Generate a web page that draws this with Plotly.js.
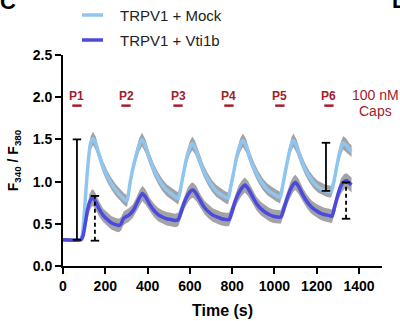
<!DOCTYPE html>
<html>
<head>
<meta charset="utf-8">
<script src="https://cdn.plot.ly/plotly-3.0.1.min.js"></script>
<style>
  html, body { margin: 0; padding: 0; background: #ffffff; }
  #chart { width: 400px; height: 321px; }
</style>
</head>
<body>
<div id="chart"></div>
<script>
// ---- data ----
const timeMock = [
  0, 80, 90, 100, 110, 120, 130, 142, 155, 170,
  190, 210, 230, 250, 270, 290, 303, 315, 330, 345,
  360, 374, 390, 410, 430, 450, 470, 490, 510, 530,
  545, 555, 570, 585, 600, 612, 625, 645, 665, 685,
  705, 725, 745, 765, 781, 792, 808, 822, 838, 851,
  865, 885, 905, 925, 945, 965, 985, 1005, 1027, 1037,
  1052, 1068, 1080, 1090, 1105, 1125, 1145, 1165, 1185, 1205,
  1225, 1245, 1268, 1280, 1295, 1310, 1325, 1340, 1355, 1365
];
const mockValues = [
  0.31, 0.31, 0.35, 0.60, 0.95, 1.25, 1.45, 1.51, 1.45, 1.32,
  1.17, 1.06, 0.97, 0.90, 0.84, 0.79, 0.77, 0.95, 1.15, 1.30,
  1.43, 1.50, 1.42, 1.27, 1.14, 1.04, 0.96, 0.90, 0.86, 0.82,
  0.80, 0.90, 1.10, 1.28, 1.40, 1.45, 1.40, 1.26, 1.13, 1.03,
  0.95, 0.89, 0.85, 0.82, 0.80, 0.92, 1.12, 1.30, 1.43, 1.49,
  1.43, 1.28, 1.15, 1.05, 0.97, 0.91, 0.87, 0.84, 0.81, 0.92,
  1.12, 1.32, 1.44, 1.49, 1.42, 1.27, 1.15, 1.06, 0.99, 0.94,
  0.91, 0.89, 0.88, 0.98, 1.18, 1.36, 1.46, 1.43, 1.38, 1.36
];
const mockSem = [
  0.02, 0.02, 0.04, 0.06, 0.07, 0.07, 0.08, 0.08, 0.08, 0.07,
  0.07, 0.07, 0.07, 0.07, 0.07, 0.07, 0.07, 0.07, 0.07, 0.07,
  0.08, 0.08, 0.08, 0.07, 0.07, 0.07, 0.07, 0.07, 0.07, 0.07,
  0.07, 0.07, 0.07, 0.07, 0.08, 0.08, 0.08, 0.07, 0.07, 0.07,
  0.07, 0.07, 0.07, 0.07, 0.07, 0.07, 0.07, 0.07, 0.08, 0.08,
  0.08, 0.07, 0.07, 0.07, 0.07, 0.07, 0.07, 0.07, 0.07, 0.07,
  0.07, 0.07, 0.08, 0.08, 0.08, 0.07, 0.07, 0.07, 0.07, 0.07,
  0.07, 0.07, 0.07, 0.07, 0.07, 0.08, 0.08, 0.08, 0.07, 0.07
];

const timeVti = [
  0, 85, 95, 105, 115, 125, 135, 142, 155, 170,
  190, 210, 230, 250, 265, 275, 285, 295, 310, 330,
  345, 360, 375, 390, 410, 430, 450, 470, 490, 510,
  530, 545, 560, 575, 590, 605, 615, 630, 650, 670,
  690, 710, 730, 750, 770, 785, 800, 815, 830, 845,
  860, 875, 895, 915, 935, 955, 975, 995, 1015, 1030,
  1045, 1060, 1075, 1090, 1100, 1115, 1135, 1155, 1175, 1195,
  1215, 1235, 1255, 1272, 1285, 1300, 1315, 1330, 1343, 1355,
  1365
];
const vtiValues = [
  0.31, 0.31, 0.36, 0.50, 0.65, 0.75, 0.80, 0.81, 0.76, 0.68,
  0.60, 0.55, 0.51, 0.49, 0.48, 0.50, 0.56, 0.58, 0.60, 0.65,
  0.72, 0.80, 0.86, 0.82, 0.73, 0.66, 0.61, 0.58, 0.56, 0.55,
  0.54, 0.55, 0.65, 0.76, 0.84, 0.89, 0.90, 0.86, 0.77, 0.69,
  0.64, 0.60, 0.58, 0.56, 0.55, 0.55, 0.65, 0.77, 0.86, 0.92,
  0.96, 0.92, 0.83, 0.74, 0.68, 0.64, 0.61, 0.59, 0.58, 0.58,
  0.68, 0.80, 0.90, 0.97, 0.99, 0.94, 0.84, 0.76, 0.70, 0.66,
  0.63, 0.61, 0.60, 0.59, 0.70, 0.84, 0.95, 1.00, 1.01, 0.98,
  0.96
];
const vtiSem = [
  0.02, 0.02, 0.04, 0.07, 0.09, 0.10, 0.10, 0.10, 0.10, 0.09,
  0.08, 0.08, 0.08, 0.08, 0.08, 0.08, 0.08, 0.08, 0.08, 0.08,
  0.08, 0.09, 0.09, 0.09, 0.08, 0.08, 0.08, 0.08, 0.08, 0.08,
  0.08, 0.08, 0.08, 0.08, 0.09, 0.09, 0.09, 0.09, 0.08, 0.08,
  0.08, 0.08, 0.08, 0.08, 0.08, 0.08, 0.08, 0.08, 0.09, 0.09,
  0.09, 0.09, 0.08, 0.08, 0.08, 0.08, 0.08, 0.08, 0.08, 0.08,
  0.08, 0.08, 0.09, 0.09, 0.09, 0.09, 0.08, 0.08, 0.08, 0.08,
  0.08, 0.08, 0.08, 0.08, 0.08, 0.08, 0.09, 0.09, 0.09, 0.09,
  0.09
];

// amplitude bars (solid = Mock, dashed = Vti1b)
const solidBarT = [66, 1244];
const solidBarLo = [0.31, 0.89];
const solidBarHi = [1.50, 1.46];
const dashBarT = [151, 1339];
const dashBarLo = [0.30, 0.56];
const dashBarHi = [0.83, 0.99];

// capsaicin pulses
const pulseT = [66, 298, 544, 785, 1026, 1258];
const pulseLabels = ['P1', 'P2', 'P3', 'P4', 'P5', 'P6'];
const pulseHalfWidth = 22;   // seconds
const pulseLabelY = 2.02;
const pulseDashY = 1.90;

const seriesNames = ['TRPV1 + Mock', 'TRPV1 + Vti1b'];
const xTicks = [0, 200, 400, 600, 800, 1000, 1200, 1400];
const yTicks = [0, 0.5, 1.0, 1.5, 2.0, 2.5];

// ---- styles ----
const mockColor = '#8fc6ef';
const vtiColor = '#4a4ade';
const bandColor = '#a3a3a7';
const red = '#a3202a';
const FONT = 'Arial, "Liberation Sans", Helvetica, sans-serif';
const capHalf = 20;  // seconds

function band(t, v, s, name) {
  const lo = v.map((d, i) => d - s[i]);
  const hi = v.map((d, i) => d + s[i]);
  return [
    { x: t, y: lo, type: 'scatter', mode: 'lines', line: { width: 0, color: bandColor },
      showlegend: false, hoverinfo: 'skip', name: name + ' lo' },
    { x: t, y: hi, type: 'scatter', mode: 'lines', line: { width: 0, color: bandColor },
      fill: 'tonexty', fillcolor: bandColor, showlegend: false, hoverinfo: 'skip', name: name + ' hi' }
  ];
}

function stems(T, Lo, Hi) {
  const x = [], y = [];
  T.forEach((t, i) => { x.push(t, t, null); y.push(Lo[i], Hi[i], null); });
  return { x, y };
}
function caps(T, Lo, Hi) {
  const x = [], y = [];
  T.forEach((t, i) => {
    x.push(t - capHalf, t + capHalf, null, t - capHalf, t + capHalf, null);
    y.push(Lo[i], Lo[i], null, Hi[i], Hi[i], null);
  });
  return { x, y };
}

const solidStem = stems(solidBarT, solidBarLo, solidBarHi);
const dashStem = stems(dashBarT, dashBarLo, dashBarHi);
const allCaps = caps(solidBarT.concat(dashBarT), solidBarLo.concat(dashBarLo), solidBarHi.concat(dashBarHi));

const pulseX = [], pulseY = [];
pulseT.forEach(t => { pulseX.push(t - pulseHalfWidth, t + pulseHalfWidth, null); pulseY.push(pulseDashY, pulseDashY, null); });

const traces = [
  ...band(timeMock, mockValues, mockSem, 'mock'),
  { x: timeMock, y: mockValues, type: 'scatter', mode: 'lines', name: seriesNames[0],
    line: { color: mockColor, width: 3.5, shape: 'spline', smoothing: 0.6 }, showlegend: false },
  ...band(timeVti, vtiValues, vtiSem, 'vti'),
  { x: timeVti, y: vtiValues, type: 'scatter', mode: 'lines', name: seriesNames[1],
    line: { color: vtiColor, width: 3.5, shape: 'spline', smoothing: 0.6 }, showlegend: false },
  { x: solidStem.x, y: solidStem.y, type: 'scatter', mode: 'lines', line: { color: '#000', width: 1.8 },
    showlegend: false, hoverinfo: 'skip', cliponaxis: false },
  { x: dashStem.x, y: dashStem.y, type: 'scatter', mode: 'lines', line: { color: '#000', width: 1.8, dash: '4px,3px' },
    showlegend: false, hoverinfo: 'skip', cliponaxis: false },
  { x: allCaps.x, y: allCaps.y, type: 'scatter', mode: 'lines', line: { color: '#000', width: 1.8 },
    showlegend: false, hoverinfo: 'skip', cliponaxis: false },
  { x: pulseX, y: pulseY, type: 'scatter', mode: 'lines', line: { color: red, width: 2.5 },
    showlegend: false, hoverinfo: 'skip', cliponaxis: false }
];

// pixel -> paper helpers for items outside the plot area
const L = 63, R = 382, T = 55, B = 266;
const px = p => (p - L) / (R - L);
const py = p => (B - p) / (B - T);

const annotations = pulseT.map((t, i) => ({
  x: t, y: pulseLabelY, xref: 'x', yref: 'y', text: pulseLabels[i], showarrow: false,
  xanchor: 'center', yanchor: 'middle', font: { family: FONT, size: 12, color: red, weight: 'bold' }
}));
annotations.push(
  { x: 1476, y: 2.03, xref: 'x', yref: 'y', text: '100 nM', showarrow: false, xanchor: 'center', yanchor: 'middle',
    font: { family: FONT, size: 14, color: red } },
  { x: 1476, y: 1.84, xref: 'x', yref: 'y', text: 'Caps', showarrow: false, xanchor: 'center', yanchor: 'middle',
    font: { family: FONT, size: 14, color: red } },
  { x: px(118), y: py(15), xref: 'paper', yref: 'paper', text: seriesNames[0], showarrow: false,
    xanchor: 'left', yanchor: 'middle', font: { family: FONT, size: 15, color: '#222' } },
  { x: px(118), y: py(40), xref: 'paper', yref: 'paper', text: seriesNames[1], showarrow: false,
    xanchor: 'left', yanchor: 'middle', font: { family: FONT, size: 15, color: '#222' } },
  { x: px(-2), y: py(1), xref: 'paper', yref: 'paper', text: 'C', showarrow: false,
    xanchor: 'left', yanchor: 'middle', font: { family: FONT, size: 22, color: '#000', weight: 'bold' } },
  { x: px(390), y: py(0), xref: 'paper', yref: 'paper', text: 'D', showarrow: false,
    xanchor: 'left', yanchor: 'middle', font: { family: FONT, size: 22, color: '#000', weight: 'bold' } }
);

const shapes = [
  { type: 'line', xref: 'paper', yref: 'paper', x0: px(82), x1: px(103), y0: py(15), y1: py(15),
    line: { color: mockColor, width: 3.5 } },
  { type: 'line', xref: 'paper', yref: 'paper', x0: px(82), x1: px(103), y0: py(40), y1: py(40),
    line: { color: vtiColor, width: 3.5 } }
];

const layout = {
  width: 400, height: 321,
  margin: { l: L, r: 400 - R, t: T, b: 321 - B, pad: 0 },
  paper_bgcolor: '#fff', plot_bgcolor: '#fff',
  showlegend: false,
  xaxis: {
    range: [0, 1509], tickvals: xTicks, ticktext: xTicks.map(String),
    showline: true, linecolor: '#000', linewidth: 2, mirror: false,
    ticks: 'outside', ticklen: 6, tickwidth: 2, tickcolor: '#000',
    showgrid: false, zeroline: false,
    tickfont: { family: FONT, size: 14, color: '#000', weight: 'bold' },
    title: { text: 'Time (s)', standoff: 12, font: { family: FONT, size: 16, color: '#000', weight: 'bold' } },
    automargin: false
  },
  yaxis: {
    range: [0, 2.5], tickvals: yTicks, ticktext: yTicks.map(v => v.toFixed(1)),
    showline: true, linecolor: '#000', linewidth: 2,
    ticks: 'outside', ticklen: 6, tickwidth: 2, tickcolor: '#000',
    showgrid: false, zeroline: false,
    tickfont: { family: FONT, size: 14, color: '#000', weight: 'bold' },
    title: { text: 'F<sub>340</sub> / F<sub>380</sub>', standoff: 11,
             font: { family: FONT, size: 14, color: '#000', weight: 'bold' } },
    automargin: false
  },
  annotations, shapes
};

Plotly.newPlot('chart', traces, layout, { displayModeBar: false, staticPlot: true });
</script>
</body>
</html>
